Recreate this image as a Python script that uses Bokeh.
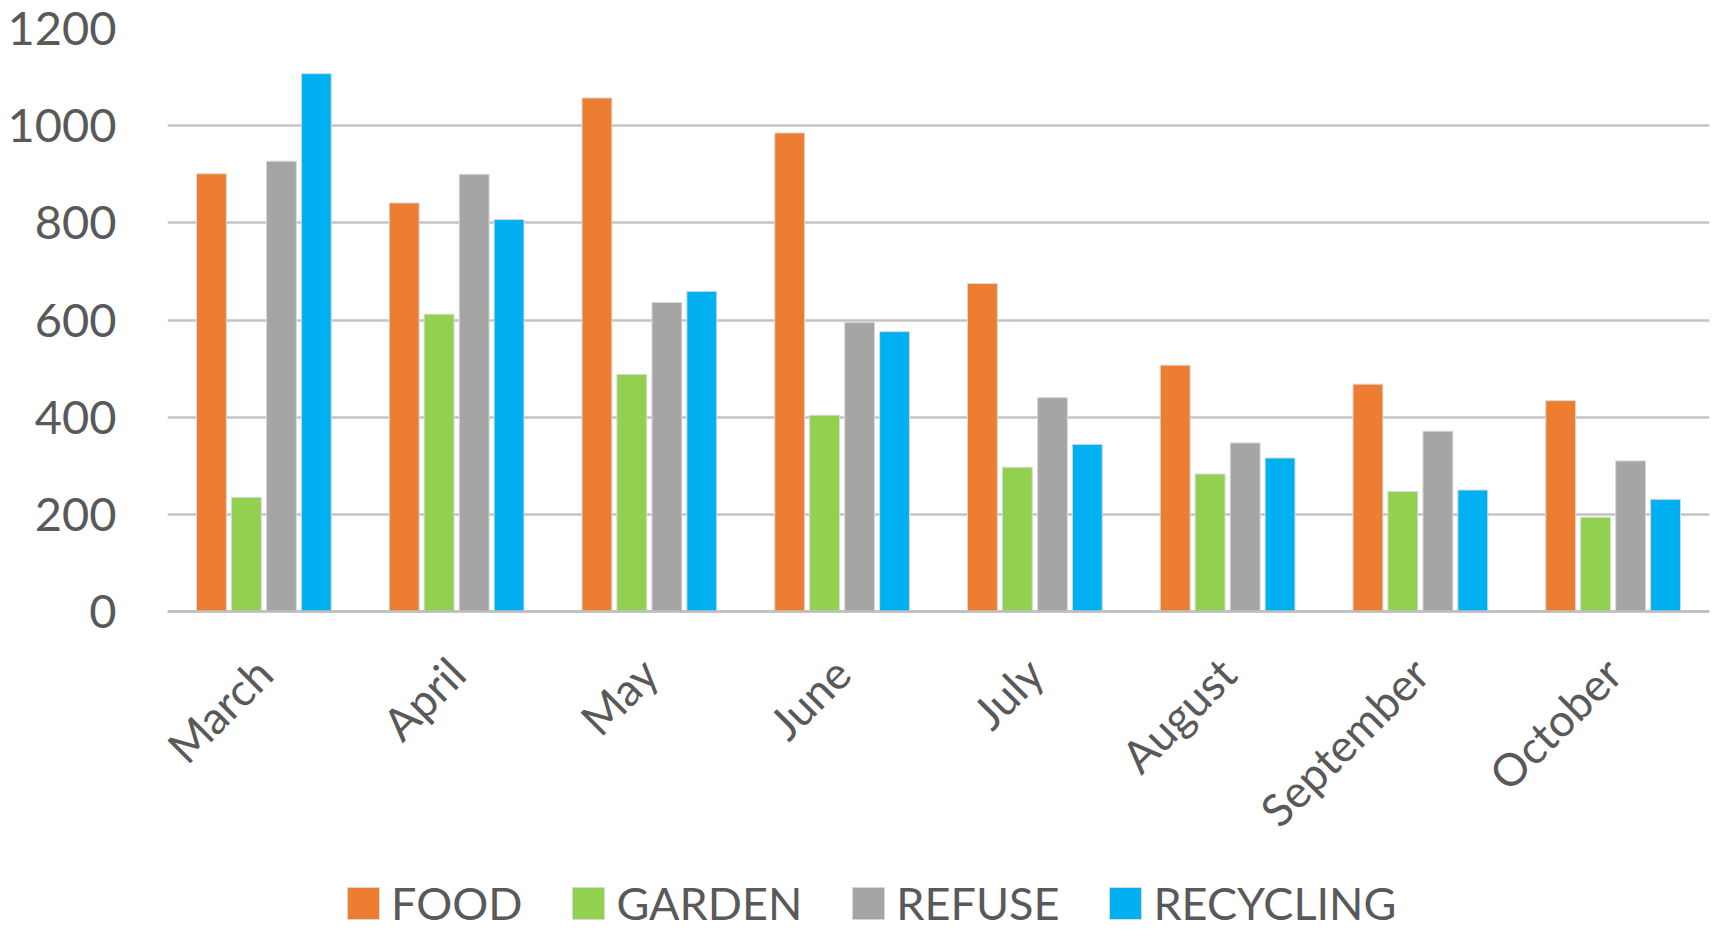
import math
from bokeh.plotting import figure
from bokeh.models import ColumnDataSource, FactorRange, Legend, LegendItem, FixedTicker, Range1d
from bokeh.transform import dodge
from bokeh.embed import file_html
from bokeh.resources import INLINE

months = ["March", "April", "May", "June", "July", "August", "September", "October"]
food = [901, 841, 1057, 985, 675, 507, 468, 434]
garden = [235, 612, 488, 404, 297, 283, 247, 194]
refuse = [927, 900, 636, 595, 440, 347, 371, 310]
recycling = [1107, 807, 659, 576, 344, 316, 250, 231]
series_names = ["FOOD", "GARDEN", "REFUSE", "RECYCLING"]
colors = ["#ED7D31", "#92D050", "#A5A5A5", "#00B0F0"]
y_ticks = [0, 200, 400, 600, 800, 1000, 1200]

FONT = "Lato"
LABEL_COLOR = "#595959"

# layout (screen pixels)
H = 930
TOP = 28
ZERO_Y = 611          # pixel row of the value 0
Y_MAX = 1200
y_start = -(H - ZERO_Y) * Y_MAX / (ZERO_Y - TOP)

source = ColumnDataSource(dict(months=months, FOOD=food, GARDEN=garden,
                               REFUSE=refuse, RECYCLING=recycling))

p = figure(x_range=FactorRange(*months), y_range=Range1d(y_start, Y_MAX),
           width=1713, height=H, output_backend="svg", toolbar_location=None,
           min_border_left=167, min_border_right=4, min_border_top=TOP,
           min_border_bottom=0)
p.outline_line_color = None
p.background_fill_color = "white"
p.border_fill_color = "white"

offsets = [-0.272, -0.091, 0.091, 0.272]
renderers = []
for name, col, off in zip(series_names, colors, offsets):
    r = p.vbar(x=dodge("months", off, range=p.x_range), top=name, width=0.155,
               source=source, fill_color=col, line_color="#d8d8d8", line_width=1)
    renderers.append(r)

# axes
p.yaxis.ticker = FixedTicker(ticks=y_ticks)
p.yaxis.axis_line_color = None
p.yaxis.major_tick_line_color = None
p.yaxis.minor_tick_line_color = None
p.yaxis.major_label_text_font = FONT
p.yaxis.major_label_text_font_size = "47px"
p.yaxis.major_label_text_color = LABEL_COLOR
p.yaxis.major_label_standoff = 45

p.xaxis.fixed_location = 0
p.xaxis.axis_line_color = "#bfbfbf"
p.xaxis.axis_line_width = 2.5
p.xaxis.major_tick_line_color = None
p.xaxis.minor_tick_line_color = None
p.xaxis.major_label_orientation = math.pi / 4
p.xaxis.major_label_text_font = FONT
p.xaxis.major_label_text_font_size = "45px"
p.xaxis.major_label_text_color = LABEL_COLOR
p.xaxis.major_label_standoff = 48

p.xgrid.grid_line_color = None
p.ygrid.grid_line_color = "#c4c4c4"
p.ygrid.grid_line_width = 2.5

legend = Legend(items=[LegendItem(label=n, renderers=[r]) for n, r in zip(series_names, renderers)],
                orientation="horizontal", location=(176, 0))
legend.border_line_color = None
legend.background_fill_alpha = 0
legend.label_text_font = FONT
legend.label_text_font_size = "45px"
legend.label_text_color = LABEL_COLOR
legend.glyph_width = 40
legend.glyph_height = 40
legend.label_standoff = 8
legend.spacing = 46
legend.padding = 0
legend.margin = 0
p.add_layout(legend, "center")

open("out.html", "w").write(file_html(p, INLINE))
